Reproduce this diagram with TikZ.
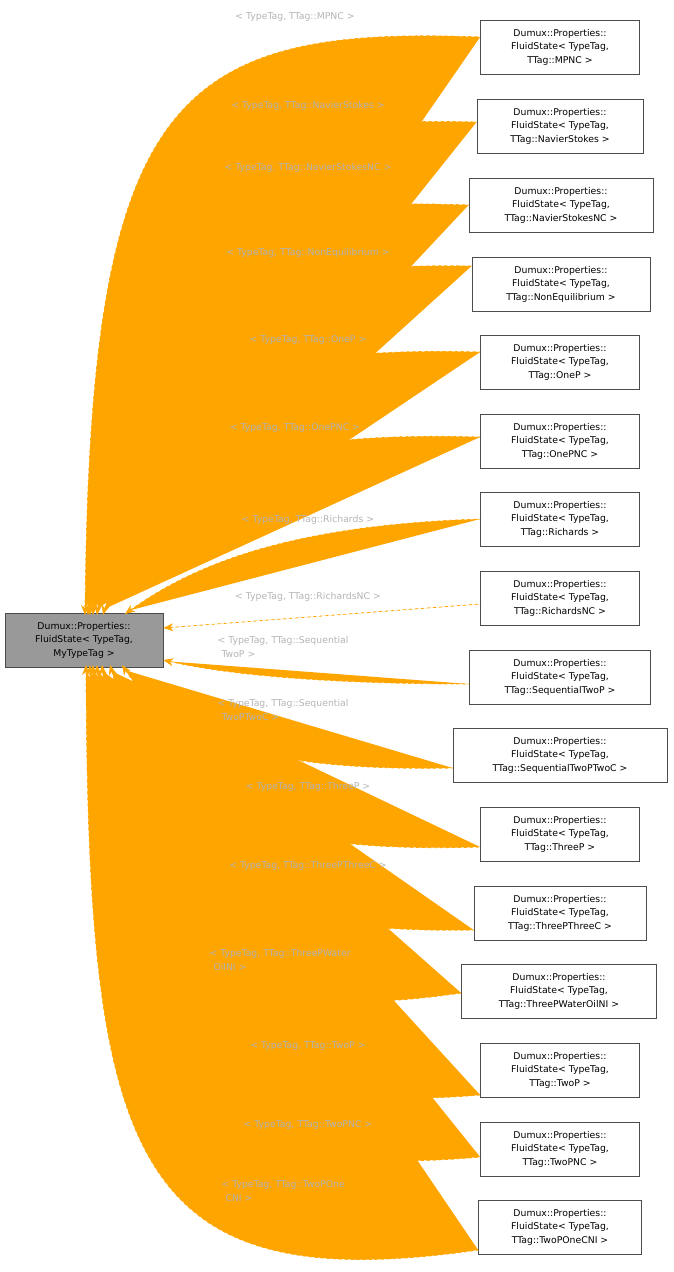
\documentclass[tikz,border=0pt]{standalone}
\usepackage{fontspec}
\setmainfont{DejaVu Sans}
\usetikzlibrary{arrows.meta}
\definecolor{edgeorange}{HTML}{FFA500}
\definecolor{lblgray}{HTML}{B4B4B4}
\begin{document}
\begin{tikzpicture}[x=1pt,y=-1pt,
    font=\fontsize{9.3}{13.5}\selectfont]
    \tikzset{every cls/.style={draw=black!70, line width=0.7pt, align=center, minimum height=54, inner sep=2pt},
             base/.style={every cls, fill=black!40},
             dep/.style={{Stealth[length=10pt,width=8pt]}-, draw=edgeorange, fill=edgeorange, dashed, line width=0.8pt},
             lbl/.style={text=lblgray, align=left}}
    \useasboundingbox (0,0) rectangle (673,1272);
	\node [base, minimum width=158] (base) at (84, 640) {Dumux::Properties::\\FluidState< TypeTag,\\MyTypeTag >};

	\node [every cls, minimum width=159] (mpnc) at (560, 47) {Dumux::Properties::\\FluidState< TypeTag,\\TTag::MPNC >};
	\node [every cls, minimum width=166] (ns) at (560, 126) {Dumux::Properties::\\FluidState< TypeTag,\\TTag::NavierStokes >};
	\node [every cls, minimum width=184] (nsnc) at (561, 205) {Dumux::Properties::\\FluidState< TypeTag,\\TTag::NavierStokesNC >};
	\node [every cls, minimum width=178] (neq) at (561, 284) {Dumux::Properties::\\FluidState< TypeTag,\\TTag::NonEquilibrium >};
	\node [every cls, minimum width=159] (onep) at (560, 362) {Dumux::Properties::\\FluidState< TypeTag,\\TTag::OneP >};
	\node [every cls, minimum width=159] (onepnc) at (560, 441) {Dumux::Properties::\\FluidState< TypeTag,\\TTag::OnePNC >};
	\node [every cls, minimum width=159] (rich) at (560, 519) {Dumux::Properties::\\FluidState< TypeTag,\\TTag::Richards >};
	\node [every cls, minimum width=159] (richnc) at (560, 598) {Dumux::Properties::\\FluidState< TypeTag,\\TTag::RichardsNC >};
	\node [every cls, minimum width=181] (seq2p) at (560, 677) {Dumux::Properties::\\FluidState< TypeTag,\\TTag::SequentialTwoP >};
	\node [every cls, minimum width=214] (seq2p2c) at (560, 755) {Dumux::Properties::\\FluidState< TypeTag,\\TTag::SequentialTwoPTwoC >};
	\node [every cls, minimum width=159] (threep) at (560, 834) {Dumux::Properties::\\FluidState< TypeTag,\\TTag::ThreeP >};
	\node [every cls, minimum width=172] (threep3c) at (560, 913) {Dumux::Properties::\\FluidState< TypeTag,\\TTag::ThreePThreeC >};
	\node [every cls, minimum width=195] (threepwo) at (559, 991) {Dumux::Properties::\\FluidState< TypeTag,\\TTag::ThreePWaterOilNI >};
	\node [every cls, minimum width=159] (twop) at (560, 1070) {Dumux::Properties::\\FluidState< TypeTag,\\TTag::TwoP >};
	\node [every cls, minimum width=159] (twopnc) at (560, 1149) {Dumux::Properties::\\FluidState< TypeTag,\\TTag::TwoPNC >};
	\node [every cls, minimum width=163] (twop1cni) at (560, 1227) {Dumux::Properties::\\FluidState< TypeTag,\\TTag::TwoPOneCNI >};

	% inheritance edges
	\draw [dep] (85, 615) .. controls (90, 100) and (170, 25) .. (mpnc.west |- 0, 37);
	\draw [dep] (88, 615) .. controls (95, 180) and (190, 115) .. (ns.west |- 0, 122);
	\draw [dep] (90, 615) .. controls (100, 250) and (180, 195) .. (nsnc.west |- 0, 205);
	\draw [dep] (93, 615) .. controls (105, 320) and (200, 262) .. (neq.west |- 0, 266);
	\draw [dep] (97, 615) .. controls (120, 400) and (220, 345) .. (onep.west |- 0, 352);
	\draw [dep] (103, 615) .. controls (140, 480) and (230, 430) .. (onepnc.west |- 0, 437);
	\draw [dep] (125, 614) .. controls (200, 560) and (300, 525) .. (rich.west |- 0, 519);
	\draw [dep] (base.east |- 0, 628) -- (richnc.west |- 0, 604);
	\draw [dep] (base.east |- 0, 660) .. controls (250, 680) and (380, 684) .. (seq2p.west |- 0, 684);
	\draw [dep] (122, 665) .. controls (165, 730) and (240, 772) .. (seq2p2c.west |- 0, 768);
	\draw [dep] (110, 665) .. controls (145, 790) and (220, 855) .. (threep.west |- 0, 847);
	\draw [dep] (102, 665) .. controls (120, 850) and (200, 935) .. (threep3c.west |- 0, 930);
	\draw [dep] (97, 665) .. controls (110, 950) and (210, 1030) .. (threepwo.west |- 0, 993);
	\draw [dep] (93, 665) .. controls (100, 1000) and (180, 1120) .. (twop.west |- 0, 1095);
	\draw [dep] (90, 665) .. controls (95, 1060) and (170, 1185) .. (twopnc.west |- 0, 1157);
	\draw [dep] (86, 665) .. controls (88, 1160) and (130, 1300) .. (twop1cni.west |- 0, 1250);

	% edge labels
	\node [lbl] (l1) at (295, 17) {< TypeTag, TTag::MPNC >};
	\node [lbl] (l2) at (308, 106) {< TypeTag, TTag::NavierStokes >};
	\node [lbl] (l3) at (308, 168) {< TypeTag, TTag::NavierStokesNC >};
	\node [lbl] (l4) at (308, 253) {< TypeTag, TTag::NonEquilibrium >};
	\node [lbl] (l5) at (308, 340) {< TypeTag, TTag::OneP >};
	\node [lbl] (l6) at (295, 428) {< TypeTag, TTag::OnePNC >};
	\node [lbl] (l7) at (308, 520) {< TypeTag, TTag::Richards >};
	\node [lbl] (l8) at (308, 597) {< TypeTag, TTag::RichardsNC >};
	\node [lbl, anchor=west] (l9) at (214, 647) {< TypeTag, TTag::Sequential\\\hspace{4pt}TwoP >};
	\node [lbl, anchor=west] (l10) at (214, 710) {< TypeTag, TTag::Sequential\\\hspace{4pt}TwoPTwoC >};
	\node [lbl] (l11) at (308, 787) {< TypeTag, TTag::ThreeP >};
	\node [lbl] (l12) at (308, 866) {< TypeTag, TTag::ThreePThreeC >};
	\node [lbl, anchor=west] (l13) at (206, 960) {< TypeTag, TTag::ThreePWater\\\hspace{4pt}OilNI >};
	\node [lbl] (l14) at (308, 1046) {< TypeTag, TTag::TwoP >};
	\node [lbl] (l15) at (308, 1125) {< TypeTag, TTag::TwoPNC >};
	\node [lbl, anchor=west] (l16) at (218, 1191) {< TypeTag, TTag::TwoPOne\\\hspace{4pt}CNI >};
\end{tikzpicture}
\end{document}
